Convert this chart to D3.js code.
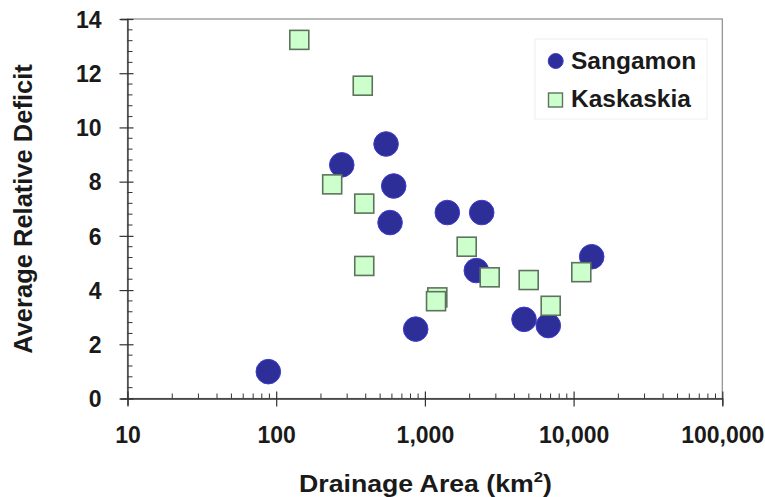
<!DOCTYPE html>
<html>
<head>
<meta charset="utf-8">
<script src="https://cdn.jsdelivr.net/npm/d3@7"></script>
<style>
  html, body { margin: 0; padding: 0; background: #fff; }
  svg { display: block; font-family: Arial, "Liberation Sans", sans-serif; }
</style>
</head>
<body>
<svg id="chart" width="765" height="497"></svg>
<script>
// ---- Data ----
const sangamonArea    = [88.5, 276, 548, 617, 583, 867, 1415, 2410, 2217, 4641, 6760, 13235];
const sangamonDeficit = [0.99, 8.62, 9.39, 7.84, 6.49, 2.56, 6.86, 6.86, 4.72, 2.92, 2.69, 5.23];
const kaskaskiaArea    = [143, 382, 238, 391, 391, 1910, 1212, 1188, 2728, 4989, 7015, 11266];
const kaskaskiaDeficit = [13.23, 11.54, 7.90, 7.19, 4.89, 5.60, 3.73, 3.59, 4.47, 4.37, 3.42, 4.66];
const xTickValues = [10, 100, 1000, 10000, 100000];
const yTickValues = [0, 2, 4, 6, 8, 10, 12, 14];
const seriesNames = ["Sangamon", "Kaskaskia"];

// ---- Layout ----
const svg = d3.select("#chart");
const x = d3.scaleLog().domain([10, 100000]).range([127.5, 722.3]);
const y = d3.scaleLinear().domain([0, 14]).range([398.5, 19]);
const textColor = "#1a1a1a";

// plot frame (top & right in gray)
svg.append("rect")
  .attr("x", x(10)).attr("y", y(14))
  .attr("width", x(100000) - x(10)).attr("height", y(0) - y(14))
  .attr("fill", "none").attr("stroke", "#8c8c8c").attr("stroke-width", 1.2);

// minor ticks y (every 0.4, inside)
const yMinor = d3.range(0, 14.001, 0.4).filter(v => Math.abs(v / 2 - Math.round(v / 2)) > 0.01);
svg.append("g").selectAll("line").data(yMinor).join("line")
  .attr("x1", x(10)).attr("x2", x(10) + 5)
  .attr("y1", d => y(d)).attr("y2", d => y(d))
  .attr("stroke", "#333").attr("stroke-width", 1);

// minor ticks x (log, inside)
const xMinor = [];
[10, 100, 1000, 10000].forEach(b => { for (let k = 2; k <= 9; k++) xMinor.push(b * k); });
svg.append("g").selectAll("line").data(xMinor).join("line")
  .attr("x1", d => x(d)).attr("x2", d => x(d))
  .attr("y1", y(0)).attr("y2", y(0) - 5)
  .attr("stroke", "#333").attr("stroke-width", 1);

// y axis
const yAxis = svg.append("g")
  .attr("transform", `translate(${x(10)},0)`)
  .call(d3.axisLeft(y).tickValues(yTickValues).tickSize(7).tickPadding(0).tickFormat(d3.format("d")));
yAxis.select(".domain").attr("stroke", "#333").attr("stroke-width", 1.3);
yAxis.selectAll(".tick line").attr("x1", 6).attr("x2", -8).attr("stroke", "#333").attr("stroke-width", 1.2);
yAxis.selectAll(".tick text")
  .attr("x", -26).attr("dy", "0.36em")
  .attr("fill", textColor).attr("font-size", 23).attr("font-weight", "bold")
  .attr("font-family", "Arial, 'Liberation Sans', sans-serif");

// x axis
const xAxis = svg.append("g")
  .attr("transform", `translate(0,${y(0)})`)
  .call(d3.axisBottom(x).tickValues(xTickValues).tickSize(7).tickFormat(d3.format(",")));
xAxis.select(".domain").attr("stroke", "#333").attr("stroke-width", 1.3);
xAxis.selectAll(".tick line").attr("y1", -7).attr("y2", 8).attr("stroke", "#333").attr("stroke-width", 1.2);
xAxis.selectAll(".tick text")
  .attr("y", 44).attr("dy", 0)
  .attr("fill", textColor).attr("font-size", 23).attr("font-weight", "bold")
  .attr("font-family", "Arial, 'Liberation Sans', sans-serif");

// axis titles
svg.append("text")
  .attr("transform", "translate(32,209) rotate(-90)")
  .attr("text-anchor", "middle")
  .attr("fill", textColor).attr("font-size", 25.5).attr("font-weight", "bold")
  .text("Average Relative Deficit");

const xt = svg.append("text")
  .attr("x", 299).attr("y", 492)
  .attr("fill", textColor).attr("font-size", 24).attr("font-weight", "bold")
  .attr("textLength", 253).attr("lengthAdjust", "spacingAndGlyphs");
xt.append("tspan").text("Drainage Area (km");
xt.append("tspan").attr("dy", -10).attr("font-size", 15).text("2");
xt.append("tspan").attr("dy", 10).text(")");

// ---- Marks ----
const sangamon = sangamonArea.map((a, i) => ({ a, d: sangamonDeficit[i] }));
const kaskaskia = kaskaskiaArea.map((a, i) => ({ a, d: kaskaskiaDeficit[i] }));

svg.append("g").selectAll("circle").data(sangamon).join("circle")
  .attr("cx", p => x(p.a)).attr("cy", p => y(p.d)).attr("r", 12.3)
  .attr("fill", "#2e2e98").attr("stroke", "#3c3cd0").attr("stroke-width", 1);

const sq = 19;
svg.append("g").selectAll("rect").data(kaskaskia).join("rect")
  .attr("x", p => x(p.a) - sq / 2).attr("y", p => y(p.d) - sq / 2)
  .attr("width", sq).attr("height", sq)
  .attr("fill", "#ccffcc").attr("stroke", "#5e735e").attr("stroke-width", 1.6);

// ---- Legend ----
const lg = svg.append("g");
lg.append("rect").attr("x", 535).attr("y", 39).attr("width", 172).attr("height", 80)
  .attr("fill", "#fff").attr("stroke", "#eeeeee").attr("stroke-width", 1);
lg.append("circle").attr("cx", 555.7).attr("cy", 61).attr("r", 7.5)
  .attr("fill", "#2e2e98").attr("stroke", "#3c3cd0").attr("stroke-width", 1);
lg.append("rect").attr("x", 548.5).attr("y", 93).attr("width", 14).attr("height", 14)
  .attr("fill", "#ccffcc").attr("stroke", "#5e735e").attr("stroke-width", 1.4);
lg.append("text").attr("x", 571).attr("y", 68.5)
  .attr("fill", textColor).attr("font-size", 24.5).attr("font-weight", "bold").text(seriesNames[0]);
lg.append("text").attr("x", 571).attr("y", 107)
  .attr("fill", textColor).attr("font-size", 24.5).attr("font-weight", "bold").text(seriesNames[1]);
</script>
</body>
</html>
